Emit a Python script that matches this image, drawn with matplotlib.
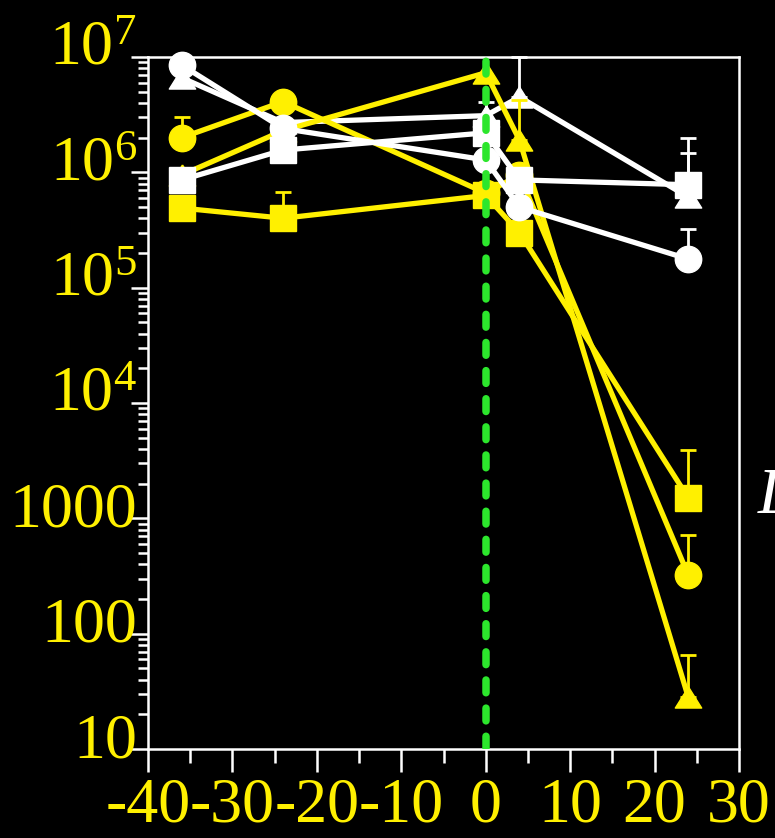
import numpy as np
import matplotlib
matplotlib.use("Agg")
import matplotlib.pyplot as plt
from matplotlib import transforms
from matplotlib.ticker import FixedLocator, FixedFormatter, LogLocator, NullFormatter, MultipleLocator

# Sampling times (h)
hours = [-36, -24, 0, 4, 24]

# Counts per series; *_upper holds the top of each error bar (None = no bar)
white_circle = [8.5e6, 2.4e6, 1.28e6, 5.0e5, 1.77e5]
white_circle_upper = [None, None, None, None, 3.2e5]
white_triangle = [6.6e6, 2.7e6, 3.1e6, 4.5e6, 6.1e5]
white_triangle_upper = [None, None, None, 1.0e7, 2.0e6]
white_square = [8.6e5, 1.56e6, 2.2e6, 8.6e5, 7.8e5]
white_square_upper = [None, None, 4.1e6, None, 1.47e6]

yellow_circle = [2.0e6, 4.1e6, 6.6e5, 9.5e5, 321]
yellow_circle_upper = [3.0e6, None, None, None, 715]
yellow_triangle = [9.5e5, 2.3e6, 7.3e6, 1.9e6, 28]
yellow_triangle_upper = [None, None, None, 4.2e6, 65]
yellow_square = [4.9e5, 4.0e5, 6.3e5, 3.0e5, 1500]
yellow_square_upper = [None, 6.7e5, None, None, 3900]

x_ticks = [-40, -30, -20, -10, 0, 10, 20, 30]
x_tick_labels = ["-40", "-30", "-20", "-10", "0", "10", "20", "30"]
y_ticks = [10, 100, 1000, 1e4, 1e5, 1e6, 1e7]
y_tick_labels = ["10", "100", "1000", r"$\mathregular{10^{4}}$",
                 r"$\mathregular{10^{5}}$", r"$\mathregular{10^{6}}$",
                 r"$\mathregular{10^{7}}$"]

YELLOW = "#FFF000"
WHITE = "#FFFFFF"
GREEN = "#2CE62C"
LABEL_SIZE = 46

plt.rcParams["font.family"] = ["Liberation Serif", "DejaVu Serif"]
plt.rcParams["mathtext.fontset"] = "custom"
plt.rcParams["mathtext.rm"] = "Liberation Serif"
plt.rcParams["mathtext.it"] = "Liberation Serif:italic"

fig = plt.figure(figsize=(7.75, 8.38), dpi=100, facecolor="black")
ax = fig.add_axes([148 / 775, 1 - 749 / 838, (739 - 148) / 775, (749 - 57) / 838])
ax.set_facecolor("black")

tri = [(0, 0.8), (-1, -0.8), (1, -0.8), (0, 0.8)]


def draw(values, upper, color, marker, z):
    ax.plot(hours, values, color=color, lw=3.8, marker=marker, ms=19,
            mfc=color, mec=color, mew=1, zorder=z, clip_on=False)
    xs, ys, es = [], [], []
    for h, v, u in zip(hours, values, upper):
        if u is not None:
            xs.append(h)
            ys.append(v)
            es.append(u - v)
    if xs:
        ax.errorbar(xs, ys, yerr=[np.zeros(len(es)), es], fmt="none",
                    ecolor=color, elinewidth=2, capsize=6, capthick=2,
                    zorder=z - 0.1, clip_on=False)


draw(white_triangle, white_triangle_upper, WHITE, tri, 3)
draw(yellow_circle, yellow_circle_upper, YELLOW, "o", 4)
draw(yellow_triangle, yellow_triangle_upper, YELLOW, tri, 4.2)
draw(yellow_square, yellow_square_upper, YELLOW, "s", 4.4)
draw(white_circle, white_circle_upper, WHITE, "o", 5)
draw(white_square, white_square_upper, WHITE, "s", 5.2)

# treatment time marker
ax.axvline(0, color=GREEN, lw=5.4, ls=(0, (1.7, 2.05)),
           dash_capstyle="round", zorder=6)

ax.set_yscale("log")
ax.set_xlim(-40, 30)
ax.set_ylim(10, 1e7)

ax.xaxis.set_major_locator(FixedLocator(x_ticks))
ax.xaxis.set_major_formatter(FixedFormatter(x_tick_labels))
ax.xaxis.set_minor_locator(MultipleLocator(5))
ax.yaxis.set_major_locator(FixedLocator(y_ticks))
ax.yaxis.set_minor_locator(LogLocator(base=10, subs=np.arange(2, 10)))
ax.yaxis.set_minor_formatter(NullFormatter())

for s in ax.spines.values():
    s.set_color(WHITE)
    s.set_linewidth(1.8)

ax.tick_params(axis="x", which="major", direction="out", length=16.5, width=1.8,
               color=WHITE, labelcolor=YELLOW, labelsize=LABEL_SIZE, pad=4)
ax.tick_params(axis="x", which="minor", direction="out", length=10, width=1.8,
               color=WHITE)
ax.tick_params(axis="y", which="major", direction="out", length=12, width=1.8,
               color=WHITE, labelleft=False)
ax.tick_params(axis="y", which="minor", direction="out", length=7.5, width=1.8,
               color=WHITE)

# y labels sit with their baseline a little below each decade tick
for v, lab in zip(y_ticks, y_tick_labels):
    tr = transforms.offset_copy(ax.get_yaxis_transform(), fig=fig,
                                x=-11, y=-8, units="dots")
    ax.text(0, v, lab, transform=tr, ha="right", va="baseline",
            color=YELLOW, fontsize=LABEL_SIZE, clip_on=False)

fig.text(758 / 775, 1 - 513 / 838, "L", color=WHITE, fontsize=47,
         fontstyle="italic", ha="left", va="baseline")

fig.savefig("out.png", dpi=100, facecolor="black")
